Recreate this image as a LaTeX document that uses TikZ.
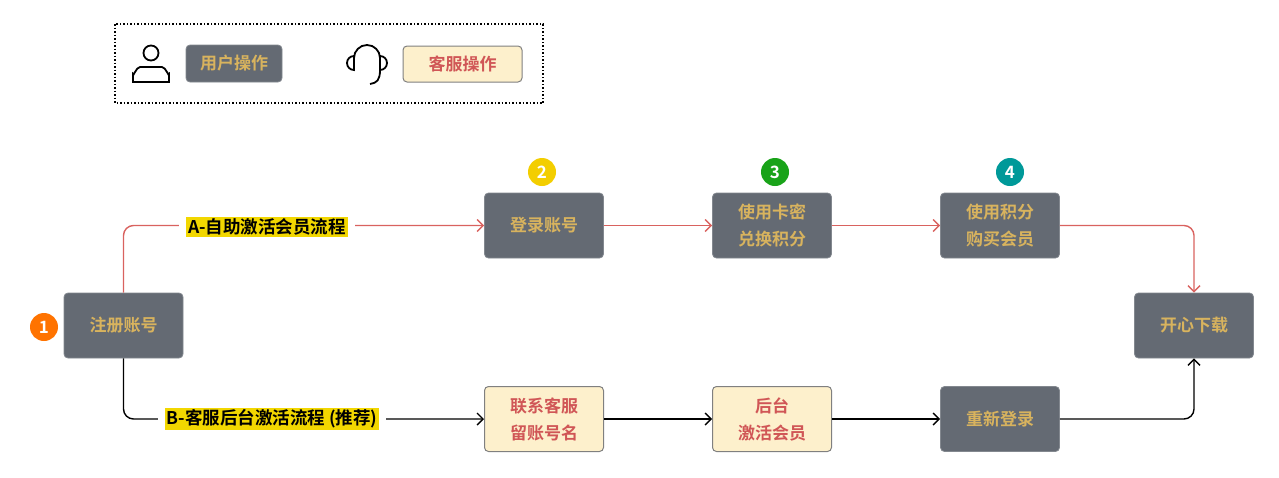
\documentclass[tikz,border=0pt]{standalone}
\usepackage{fontspec}
\setmainfont{Noto Sans CJK SC}[BoldFont={Noto Sans CJK SC Bold}]
\usetikzlibrary{arrows.meta}
\definecolor{gbox}{HTML}{646A73}
\definecolor{gold}{HTML}{D8B35E}
\definecolor{cream}{HTML}{FDF0CC}
\definecolor{rtext}{HTML}{D05656}
\definecolor{rline}{HTML}{D9625F}
\definecolor{ylab}{HTML}{F2D700}
\tikzset{
 user/.style={draw=gbox!80!white,fill=gbox,rounded corners=4pt,minimum width=119pt,minimum height=65pt,text=gold,font=\fontsize{17}{27}\selectfont\bfseries,align=center,line width=0.8pt},
 svc/.style={draw=gray,fill=cream,rounded corners=4pt,minimum width=119pt,minimum height=65pt,text=rtext,font=\fontsize{17}{27}\selectfont\bfseries,align=center,line width=1pt},
 badge/.style={circle,minimum size=28pt,inner sep=0pt,text=white,font=\fontsize{17}{17}\selectfont\bfseries},
 lab/.style={fill=ylab,inner sep=2pt,font=\fontsize{17.5}{20}\selectfont\bfseries,text=black},
 gap/.style={fill=white,inner sep=9pt,font=\fontsize{17.5}{20}\selectfont\bfseries,text opacity=0},
 ra/.style={rline,line width=1.4pt,-{Straight Barb[length=6pt,width=12pt]},rounded corners=10pt},
 ba/.style={black,line width=1.4pt,-{Straight Barb[length=6pt,width=12pt]},rounded corners=10pt}
}
\begin{document}
\begin{tikzpicture}[x=1pt,y=-1pt]
\useasboundingbox (0,0) rectangle (1279,477);
% legend
\draw[dotted,line width=1.5pt] (115,24) rectangle (543,103);
\node[user,minimum width=96pt,minimum height=37pt,font=\fontsize{17}{18}\selectfont\bfseries] (lu) at (234,63.5) {用户操作};
\node[svc,minimum width=119pt,minimum height=36pt,font=\fontsize{17}{18}\selectfont\bfseries] (ls) at (462.5,64) {客服操作};
\draw[line width=1.8pt] (151,53) circle (7.5);
\draw[line width=1.8pt] (133,82) -- (133,74) to[out=-90,in=180] (140,67) -- (162,67) to[out=0,in=-90] (169,74) -- (169,82) -- cycle;
% headset
\draw[line width=1.8pt] (354,58) arc[start angle=180,end angle=360,radius=13];
\draw[line width=1.8pt] (354,56) arc[start angle=-90,end angle=-270,radius=7] -- cycle;
\draw[line width=1.8pt] (380,56) arc[start angle=-90,end angle=90,radius=7] -- cycle;
\draw[line width=1.8pt] (380,70) .. controls (380,80) and (377,83) .. (370,84);
% main nodes
\node[user] (reg) at (123.5,325.5) {注册账号};
\node[user] (login) at (544,225.5) {登录账号};
\node[user] (card) at (772,225.5) {使用卡密\\兑换积分};
\node[user] (buy) at (1000,225.5) {使用积分\\购买会员};
\node[user] (dl) at (1194,325.5) {开心下载};
\node[svc] (contact) at (544,419) {联系客服\\留账号名};
\node[svc] (back) at (772,419) {后台\\激活会员};
\node[user] (relog) at (1000,419) {重新登录};
% badges
\node[badge,fill=orange!90!red] (b1) at (44,327) {1};
\node[badge,fill=ylab!90!orange] (b2) at (542,172) {2};
\node[badge,fill=green!60!black!90] (b3) at (775,172) {3};
\node[badge,fill=teal!80!cyan] (b4) at (1010,172) {4};
% edges
\draw[ra] (reg.north) |- (login.west);
\node[gap] at (267,227) {A-自助激活会员流程};
\node[lab] (la) at (267,227) {A-自助激活会员流程};
\draw[ra] (login) -- (card);
\draw[ra] (card) -- (buy);
\draw[ra] (buy.east) -| (dl.north);
\draw[ba] (reg.south) |- (contact.west);
\node[gap] at (272,419) {B-客服后台激活流程 (推荐)};
\node[lab] (lb) at (272,419) {B-客服后台激活流程 (推荐)};
\draw[ba] (contact) -- (back);
\draw[ba] (back) -- (relog);
\draw[ba] (relog.east) -| (dl.south);
\end{tikzpicture}
\end{document}
